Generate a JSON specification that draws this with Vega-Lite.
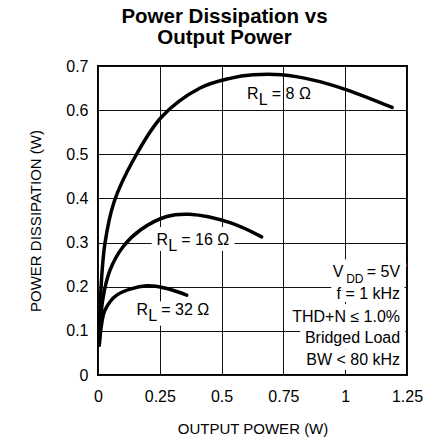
{
  "$schema": "https://vega.github.io/schema/vega-lite/v6.json",
  "width": 309,
  "height": 309,
  "autosize": {"type": "none"},
  "padding": {"left": 98, "top": 66, "right": 22, "bottom": 69},
  "background": "white",
  "title": {
    "text": ["Power Dissipation vs", "Output Power"],
    "font": "Liberation Sans",
    "fontSize": 20.5,
    "fontWeight": "bold",
    "lineHeight": 21,
    "color": "black",
    "anchor": "middle",
    "dx": -28,
    "offset": 10
  },
  "config": {
    "view": {"stroke": "black", "strokeWidth": 2},
    "axis": {
      "domain": false,
      "ticks": false,
      "grid": true,
      "gridColor": "#111",
      "gridOpacity": 1,
      "gridWidth": 1,
      "labelFont": "Liberation Sans",
      "labelFontSize": 16,
      "labelColor": "black",
      "labelFlush": false,
      "labelOverlap": false,
      "titleFont": "Liberation Sans",
      "titleFontSize": 15,
      "titleFontWeight": "normal",
      "titleColor": "black"
    }
  },
  "datasets": {
    "curves": [
      {"load": "8 Ω", "op": 0.005, "pd": 0.068},
      {"load": "8 Ω", "op": 0.011, "pd": 0.185},
      {"load": "8 Ω", "op": 0.028, "pd": 0.298},
      {"load": "8 Ω", "op": 0.065, "pd": 0.392},
      {"load": "8 Ω", "op": 0.143, "pd": 0.487},
      {"load": "8 Ω", "op": 0.258, "pd": 0.585},
      {"load": "8 Ω", "op": 0.413, "pd": 0.65},
      {"load": "8 Ω", "op": 0.534, "pd": 0.672},
      {"load": "8 Ω", "op": 0.628, "pd": 0.68},
      {"load": "8 Ω", "op": 0.743, "pd": 0.68},
      {"load": "8 Ω", "op": 0.871, "pd": 0.668},
      {"load": "8 Ω", "op": 1.006, "pd": 0.646},
      {"load": "8 Ω", "op": 1.19, "pd": 0.606},
      {"load": "16 Ω", "op": 0.005, "pd": 0.068},
      {"load": "16 Ω", "op": 0.019, "pd": 0.17},
      {"load": "16 Ω", "op": 0.049, "pd": 0.238},
      {"load": "16 Ω", "op": 0.102, "pd": 0.291},
      {"load": "16 Ω", "op": 0.17, "pd": 0.328},
      {"load": "16 Ω", "op": 0.278, "pd": 0.359},
      {"load": "16 Ω", "op": 0.37, "pd": 0.364},
      {"load": "16 Ω", "op": 0.534, "pd": 0.345},
      {"load": "16 Ω", "op": 0.662, "pd": 0.313},
      {"load": "32 Ω", "op": 0.005, "pd": 0.068},
      {"load": "32 Ω", "op": 0.015, "pd": 0.117},
      {"load": "32 Ω", "op": 0.028, "pd": 0.147},
      {"load": "32 Ω", "op": 0.076, "pd": 0.181},
      {"load": "32 Ω", "op": 0.197, "pd": 0.202},
      {"load": "32 Ω", "op": 0.278, "pd": 0.196},
      {"load": "32 Ω", "op": 0.359, "pd": 0.181}
    ],
    "labels": [
      {"load": "8 Ω", "op": 0.603, "pd": 0.625, "t": "R"},
      {"load": "8 Ω", "op": 0.65, "pd": 0.612, "t": "L"},
      {"load": "8 Ω", "op": 0.703, "pd": 0.625, "t": "= 8 Ω"},
      {"load": "16 Ω", "op": 0.237, "pd": 0.2945, "t": "R"},
      {"load": "16 Ω", "op": 0.284, "pd": 0.2816, "t": "L"},
      {"load": "16 Ω", "op": 0.337, "pd": 0.2945, "t": "= 16 Ω"},
      {"load": "32 Ω", "op": 0.156, "pd": 0.136, "t": "R"},
      {"load": "32 Ω", "op": 0.203, "pd": 0.123, "t": "L"},
      {"load": "32 Ω", "op": 0.256, "pd": 0.136, "t": "= 32 Ω"}
    ],
    "cond": [
      {"op": 1.222, "pd": 0.223, "t": "= 5V"},
      {"op": 0.993, "pd": 0.223, "t": "V"},
      {"op": 1.222, "pd": 0.1715, "t": "f = 1 kHz"},
      {"op": 1.222, "pd": 0.1208, "t": "THD+N ≤ 1.0%"},
      {"op": 1.222, "pd": 0.0718, "t": "Bridged Load"},
      {"op": 1.222, "pd": 0.0227, "t": "BW < 80 kHz"}
    ],
    "condsub": [
      {"op": 1.074, "pd": 0.208, "t": "DD"}
    ]
  },
  "encoding": {
    "x": {
      "field": "op",
      "type": "quantitative",
      "scale": {"domain": [0, 1.25], "nice": false, "zero": false},
      "axis": {
        "values": [0, 0.25, 0.5, 0.75, 1, 1.25],
        "format": ".2~f",
        "title": "OUTPUT POWER (W)",
        "labelPadding": 13,
        "titlePadding": 17
      }
    },
    "y": {
      "field": "pd",
      "type": "quantitative",
      "scale": {"domain": [0, 0.7], "nice": false, "zero": false},
      "axis": {
        "values": [0, 0.1, 0.2, 0.3, 0.4, 0.5, 0.6, 0.7],
        "format": ".1~f",
        "title": "POWER DISSIPATION (W)",
        "labelPadding": 10,
        "titlePadding": 22
      }
    }
  },
  "layer": [
    {
      "data": {"name": "labels"},
      "transform": [{"filter": "datum.load != '8 Ω'"}],
      "mark": {"type": "text", "align": "left", "baseline": "alphabetic", "font": "Liberation Sans", "fontSize": 16, "color": "white", "stroke": "white", "strokeWidth": 12, "strokeJoin": "round"},
      "encoding": {"text": {"field": "t"}}
    },
    {
      "data": {"name": "cond"},
      "mark": {"type": "text", "align": "right", "baseline": "alphabetic", "font": "Liberation Sans", "fontSize": 16, "color": "white", "stroke": "white", "strokeWidth": 12, "strokeJoin": "round"},
      "encoding": {"text": {"field": "t"}}
    },
    {
      "data": {"name": "condsub"},
      "mark": {"type": "text", "align": "right", "baseline": "alphabetic", "font": "Liberation Sans", "fontSize": 12, "color": "white", "stroke": "white", "strokeWidth": 12, "strokeJoin": "round"},
      "encoding": {"text": {"field": "t"}}
    },
    {
      "data": {"name": "curves"},
      "mark": {"type": "line", "color": "black", "strokeWidth": 3.5, "interpolate": "catmull-rom", "strokeCap": "round"},
      "encoding": {"detail": {"field": "load"}}
    },
    {
      "data": {"name": "labels"},
      "mark": {"type": "text", "align": "left", "baseline": "alphabetic", "font": "Liberation Sans", "fontSize": 16, "color": "black"},
      "encoding": {"text": {"field": "t"}}
    },
    {
      "data": {"name": "cond"},
      "mark": {"type": "text", "align": "right", "baseline": "alphabetic", "font": "Liberation Sans", "fontSize": 16, "color": "black"},
      "encoding": {"text": {"field": "t"}}
    },
    {
      "data": {"name": "condsub"},
      "mark": {"type": "text", "align": "right", "baseline": "alphabetic", "font": "Liberation Sans", "fontSize": 12, "color": "black"},
      "encoding": {"text": {"field": "t"}}
    }
  ]
}
